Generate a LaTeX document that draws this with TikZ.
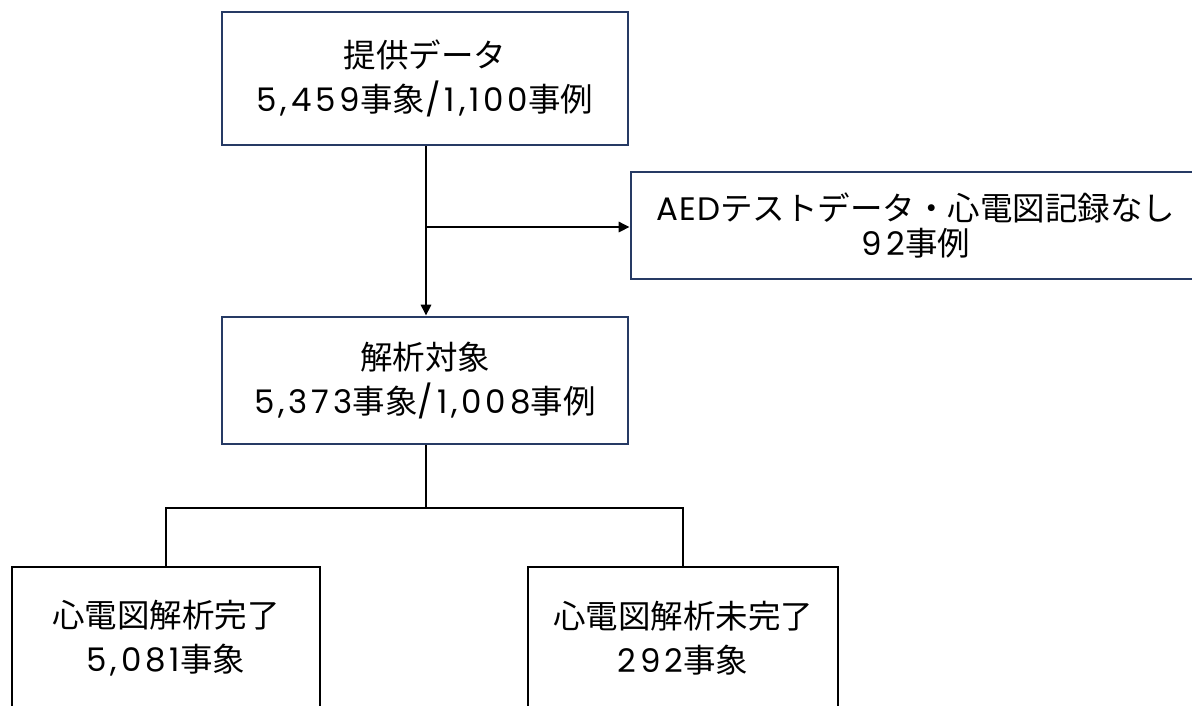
\documentclass[tikz,border=0pt]{standalone}
\usepackage{fontspec}
\setmainfont{Noto Sans CJK JP}
\newfontfamily\lat[LetterSpace=12]{Poppins}
\newfontfamily\latw[LetterSpace=3]{Poppins}
\newcommand{\n}[1]{{\lat #1}}
\newcommand{\w}[1]{{\latw #1}}
\usetikzlibrary{arrows.meta,calc}
\definecolor{navy}{RGB}{38,58,100}
\tikzset{
  box/.style={draw=navy, line width=2.6pt, fill=white, align=center, inner sep=0pt,
    font=\fontsize{32.5}{44}\selectfont},
  blackbox/.style={box, draw=black},
  conn/.style={draw=black, line width=2.6pt},
  arr/.style={conn, -{Triangle[length=11pt,width=10pt]}}
}
\begin{document}
\begin{tikzpicture}[x=1pt,y=-1pt]
\useasboundingbox (0,0) rectangle (1192,705);
\clip (0,0) rectangle (1192,705);
\fill[white] (0,0) rectangle (1192,705);
\node[box, minimum width=406pt, minimum height=133pt] (top) at (425,78.5) {提供データ\\\n{5,459}事象\n{/1,100}事例};
\node[box, minimum width=570pt, minimum height=107pt, font=\fontsize{32.5}{35}\selectfont] (excl) at (916,225.5) {\w{AED}テストデータ・心電図記録なし\\\n{92}事例};
\node[box, minimum width=406pt, minimum height=127pt] (mid) at (425,380.5) {解析対象\\\n{5,373}事象\n{/1,008}事例};
\node[blackbox, minimum width=308pt, minimum height=142pt] (done) at (166,638) {心電図解析完了\\\n{5,081}事象};
\node[blackbox, minimum width=310pt, minimum height=142pt] (undone) at (683,638) {心電図解析未完了\\\n{292}事象};
\coordinate (branch) at (426,227);
\coordinate (split) at (426,508);
\draw[arr] (top.south -| branch) -- (mid.north -| branch);
\draw[arr] (branch) -- (excl.west |- branch);
\draw[conn] (mid.south -| split) -- (split);
\draw[conn] (done.north) |- (split) -| (undone.north);
\end{tikzpicture}
\end{document}
